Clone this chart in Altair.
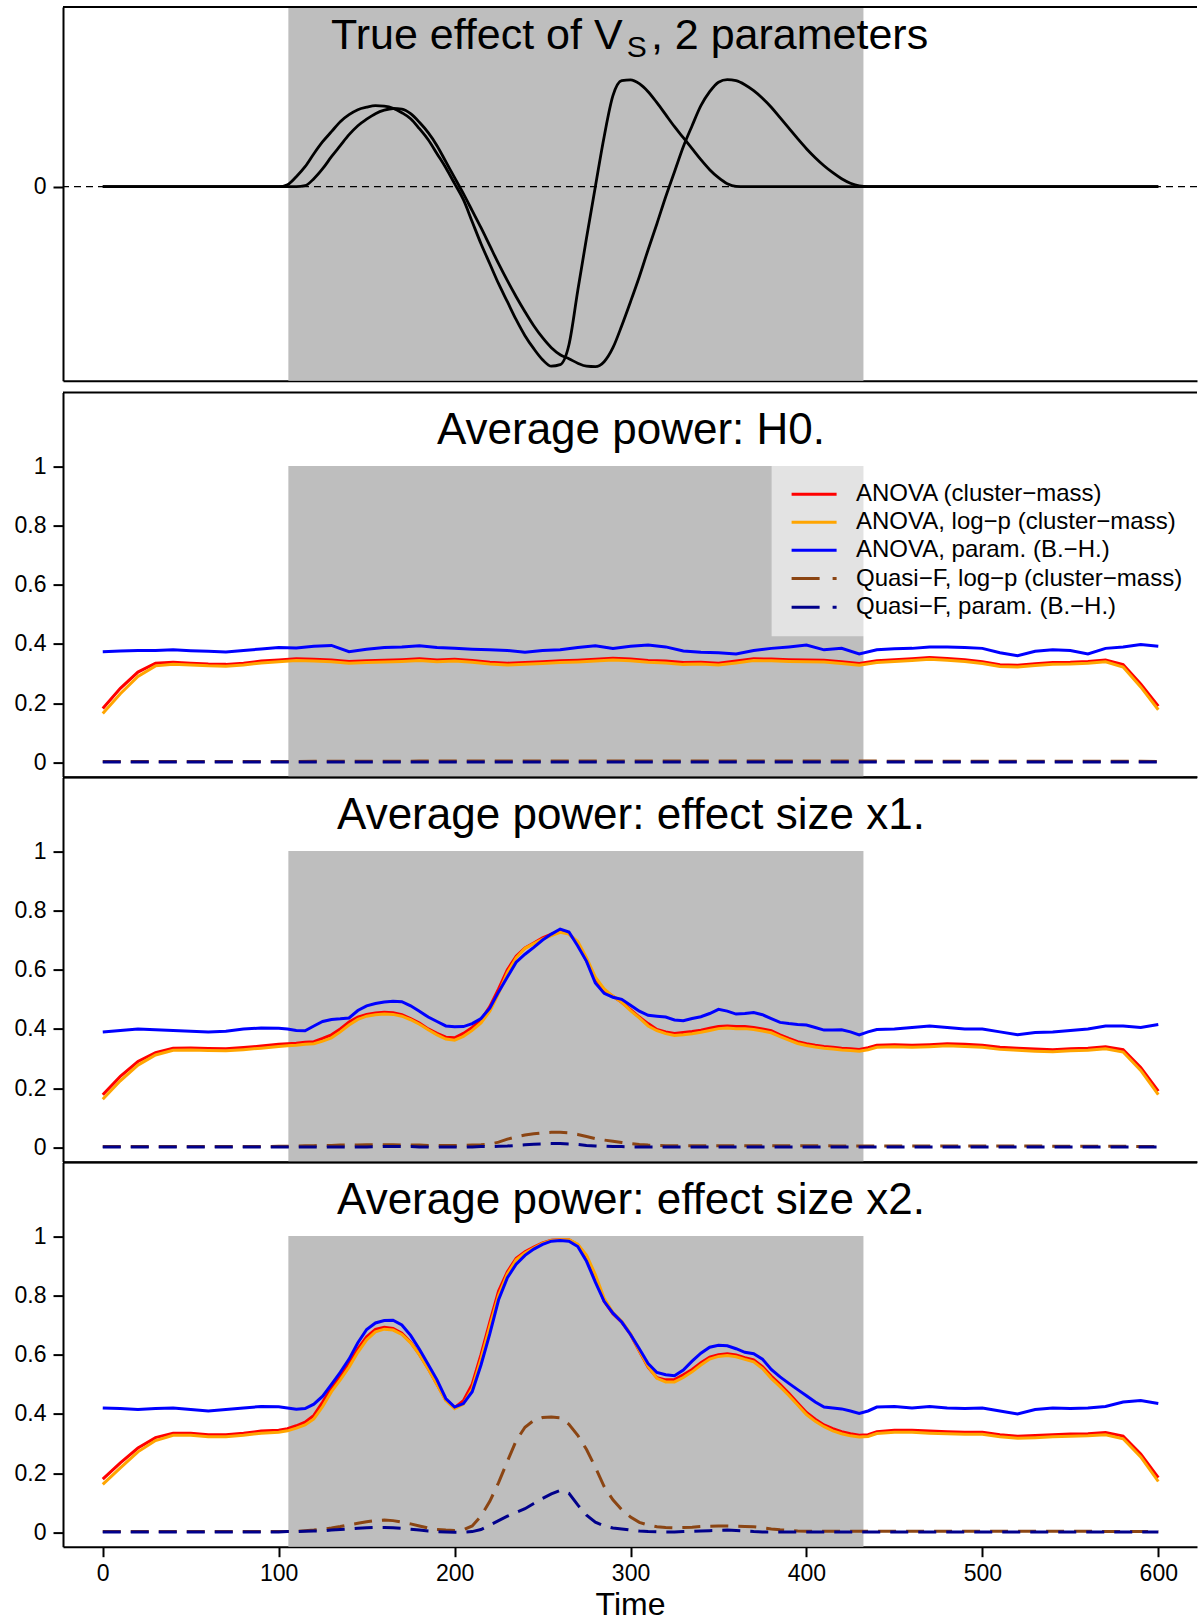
import altair as alt
import pandas as pd

FONT = "Liberation Sans"

# ---------------------------------------------------------------- data
TIME_FINE = [0, 10, 20, 30, 40, 50, 60, 70, 80, 90,
             100, 105, 110, 115, 120, 125, 130, 135, 140, 145,
             150, 155, 160, 165, 170, 175, 180, 185, 190, 195,
             200, 205, 210, 215, 220, 225, 230, 235, 240, 245,
             250, 255, 260, 265, 270, 275, 280, 285, 290, 295,
             300, 305, 310, 315, 320, 325, 330, 335, 340, 345,
             350, 355, 360, 365, 370, 375, 380, 385, 390, 395,
             400, 405, 410, 415, 420, 425, 430, 435, 440,
             450, 460, 470, 480, 490, 500, 510, 520, 530, 540, 550, 560, 570, 580, 590, 600]

TIME_COARSE = [0, 10, 20, 30, 40, 50, 60, 70, 80, 90,
               100, 110, 120, 130, 140, 150, 160, 170, 180, 190,
               200, 210, 220, 230, 240, 250, 260, 270, 280, 290,
               300, 310, 320, 330, 340, 350, 360, 370, 380, 390,
               400, 410, 420, 430, 440, 450, 460, 470, 480, 490,
               500, 510, 520, 530, 540, 550, 560, 570, 580, 590, 600]

SERIES_NAMES = ["ANOVA (cluster\u2212mass)",
                "ANOVA, log\u2212p (cluster\u2212mass)",
                "ANOVA, param. (B.\u2212H.)",
                "Quasi\u2212F, log\u2212p (cluster\u2212mass)",
                "Quasi\u2212F, param. (B.\u2212H.)"]
SERIES_KEYS = ["anova_cm", "anova_logp", "anova_param", "qf_logp", "qf_param"]
SERIES_COLORS = ["#FF0000", "#FFA500", "#0000FF", "#8B4513", "#00008B"]
SERIES_DASHED = [False, False, False, True, True]

# true effect (two parameters), arbitrary units
TRUE_EFFECT_A = [0, 0, 0, 0, 0, 0, 0, 0, 0, 0,
                 0, 0.02, 0.10, 0.20, 0.33, 0.45, 0.55, 0.65, 0.72, 0.77,
                 0.795, 0.81, 0.805, 0.785, 0.74, 0.68, 0.58, 0.47, 0.33, 0.19,
                 0.03, -0.13, -0.35, -0.57, -0.77, -0.97, -1.15, -1.33, -1.49, -1.62,
                 -1.73, -1.795, -1.78, -1.58, -1.04, -0.51, 0.0, 0.50, 0.91, 1.06,
                 1.068, 1.03, 0.95, 0.84, 0.72, 0.60, 0.49, 0.38, 0.27, 0.17,
                 0.09, 0.03, 0.003, 0, 0, 0, 0, 0, 0, 0,
                 0, 0, 0, 0, 0, 0, 0, 0, 0,
                 0, 0, 0, 0, 0, 0, 0, 0, 0, 0, 0, 0, 0, 0, 0, 0]
TRUE_EFFECT_B = [0, 0, 0, 0, 0, 0, 0, 0, 0, 0,
                 0, 0, 0, 0.01, 0.08, 0.18, 0.30, 0.41, 0.52, 0.61,
                 0.675, 0.73, 0.765, 0.782, 0.775, 0.73, 0.644, 0.54, 0.41, 0.25,
                 0.09, -0.07, -0.24, -0.41, -0.59, -0.77, -0.94, -1.10, -1.25, -1.39,
                 -1.51, -1.61, -1.68, -1.72, -1.765, -1.795, -1.80, -1.75, -1.61, -1.39,
                 -1.15, -0.90, -0.63, -0.37, -0.10, 0.15, 0.40, 0.61, 0.81, 0.95,
                 1.045, 1.07, 1.06, 1.02, 0.96, 0.885, 0.795, 0.69, 0.585, 0.48,
                 0.38, 0.29, 0.21, 0.14, 0.08, 0.035, 0.008, 0, 0,
                 0, 0, 0, 0, 0, 0, 0, 0, 0, 0, 0, 0, 0, 0, 0, 0]

# ---- H0 (coarse grid)
H0_ANOVA_CM = [0.182, 0.25, 0.305, 0.335, 0.338, 0.335, 0.332, 0.331, 0.335, 0.342,
               0.346, 0.35, 0.348, 0.346, 0.341, 0.343, 0.345, 0.347, 0.35, 0.346,
               0.348, 0.344, 0.338, 0.335, 0.337, 0.34, 0.343, 0.345, 0.348, 0.352,
               0.349, 0.344, 0.342, 0.337, 0.338, 0.335, 0.342, 0.35, 0.349, 0.347,
               0.346, 0.345, 0.34, 0.334, 0.343, 0.347, 0.35, 0.354, 0.351, 0.347,
               0.34, 0.33, 0.328, 0.333, 0.337, 0.338, 0.341, 0.346, 0.33, 0.265, 0.19]
H0_ANOVA_LOGP = [0.165, 0.232, 0.29, 0.326, 0.331, 0.329, 0.326, 0.325, 0.329, 0.336,
                 0.34, 0.344, 0.342, 0.34, 0.335, 0.337, 0.339, 0.341, 0.344, 0.34,
                 0.342, 0.338, 0.332, 0.329, 0.331, 0.334, 0.337, 0.339, 0.342, 0.346,
                 0.343, 0.338, 0.336, 0.331, 0.332, 0.329, 0.336, 0.344, 0.343, 0.341,
                 0.34, 0.339, 0.334, 0.328, 0.337, 0.341, 0.344, 0.348, 0.345, 0.341,
                 0.334, 0.324, 0.322, 0.327, 0.331, 0.332, 0.335, 0.34, 0.322, 0.255, 0.178]
H0_ANOVA_PARAM = [0.374, 0.376, 0.378, 0.378, 0.38, 0.377, 0.375, 0.373, 0.378, 0.383,
                  0.388, 0.386, 0.392, 0.395, 0.374, 0.382, 0.388, 0.39, 0.394, 0.388,
                  0.385, 0.382, 0.38, 0.378, 0.372, 0.378, 0.38, 0.388, 0.394, 0.385,
                  0.392, 0.396, 0.39, 0.376, 0.372, 0.37, 0.366, 0.378, 0.385, 0.39,
                  0.396, 0.38, 0.385, 0.366, 0.38, 0.384, 0.385, 0.39, 0.39, 0.388,
                  0.385, 0.37, 0.36, 0.375, 0.38, 0.378, 0.366, 0.385, 0.39, 0.398, 0.392]
H0_QF_LOGP = [0.003, 0.003, 0.003, 0.003, 0.003, 0.003, 0.003, 0.003, 0.003, 0.003,
              0.003, 0.003, 0.004, 0.004, 0.004, 0.004, 0.004, 0.004, 0.005, 0.005,
              0.005, 0.005, 0.005, 0.005, 0.005, 0.005, 0.005, 0.005, 0.005, 0.005,
              0.005, 0.005, 0.005, 0.005, 0.005, 0.005, 0.005, 0.005, 0.005, 0.005,
              0.005, 0.005, 0.005, 0.005, 0.005, 0.004, 0.004, 0.004, 0.004, 0.004,
              0.004, 0.004, 0.004, 0.004, 0.004, 0.004, 0.004, 0.004, 0.004, 0.004, 0.003]
H0_QF_PARAM = [0.002, 0.002, 0.002, 0.002, 0.002, 0.002, 0.002, 0.002, 0.002, 0.002,
               0.002, 0.002, 0.002, 0.002, 0.002, 0.002, 0.002, 0.002, 0.002, 0.002,
               0.002, 0.002, 0.002, 0.002, 0.002, 0.002, 0.002, 0.002, 0.002, 0.002,
               0.002, 0.002, 0.002, 0.002, 0.002, 0.002, 0.002, 0.002, 0.002, 0.002,
               0.002, 0.002, 0.002, 0.002, 0.002, 0.002, 0.002, 0.002, 0.002, 0.002,
               0.002, 0.002, 0.002, 0.002, 0.002, 0.002, 0.002, 0.002, 0.002, 0.002, 0.002]

# ---- effect size x1 (fine grid)
X1_ANOVA_CM = [0.178, 0.24, 0.29, 0.32, 0.335, 0.336, 0.334, 0.333, 0.337, 0.342,
               0.348, 0.35, 0.352, 0.355, 0.357, 0.368, 0.38, 0.40, 0.423, 0.44,
               0.449, 0.454, 0.456, 0.455, 0.448, 0.435, 0.42, 0.40, 0.385, 0.372,
               0.37, 0.385, 0.405, 0.43, 0.475, 0.535, 0.60, 0.645, 0.673, 0.69,
               0.707, 0.72, 0.731, 0.722, 0.69, 0.63, 0.57, 0.53, 0.51, 0.49,
               0.465, 0.44, 0.418, 0.398, 0.39, 0.385, 0.388, 0.391, 0.396, 0.402,
               0.408, 0.41, 0.408, 0.408, 0.405, 0.40, 0.394, 0.38, 0.368, 0.357,
               0.35, 0.345, 0.341, 0.338, 0.335, 0.333, 0.331, 0.337, 0.345,
               0.347, 0.345, 0.347, 0.35, 0.348, 0.345, 0.338, 0.335, 0.332, 0.33,
               0.333, 0.335, 0.34, 0.33, 0.27, 0.19]
X1_ANOVA_LOGP = [0.163, 0.225, 0.278, 0.312, 0.328, 0.329, 0.327, 0.326, 0.33, 0.335,
                 0.341, 0.343, 0.345, 0.348, 0.35, 0.359, 0.37, 0.39, 0.413, 0.432,
                 0.443, 0.448, 0.45, 0.449, 0.443, 0.431, 0.416, 0.397, 0.38, 0.366,
                 0.362, 0.375, 0.395, 0.42, 0.46, 0.52, 0.59, 0.64, 0.672, 0.688,
                 0.703, 0.715, 0.726, 0.72, 0.695, 0.64, 0.575, 0.535, 0.51, 0.49,
                 0.462, 0.437, 0.41, 0.394, 0.384, 0.378, 0.38, 0.384, 0.389, 0.395,
                 0.401, 0.403, 0.401, 0.401, 0.398, 0.393, 0.387, 0.374, 0.362, 0.351,
                 0.344, 0.339, 0.335, 0.332, 0.329, 0.327, 0.325, 0.33, 0.338,
                 0.34, 0.338, 0.34, 0.343, 0.341, 0.338, 0.331, 0.328, 0.325, 0.323,
                 0.326, 0.328, 0.333, 0.322, 0.26, 0.178]
X1_ANOVA_PARAM = [0.39, 0.395, 0.40, 0.397, 0.395, 0.392, 0.39, 0.392, 0.40, 0.403,
                  0.402, 0.40, 0.395, 0.394, 0.41, 0.425, 0.432, 0.434, 0.437, 0.462,
                  0.478, 0.486, 0.491, 0.493, 0.492, 0.478, 0.46, 0.44, 0.425, 0.41,
                  0.407, 0.408, 0.418, 0.435, 0.47, 0.525, 0.575, 0.625, 0.652, 0.675,
                  0.70, 0.72, 0.737, 0.727, 0.68, 0.628, 0.555, 0.52, 0.507, 0.50,
                  0.48, 0.46, 0.446, 0.443, 0.44, 0.43, 0.428, 0.435, 0.441, 0.452,
                  0.466, 0.46, 0.45, 0.452, 0.455, 0.448, 0.435, 0.422, 0.418, 0.415,
                  0.413, 0.405, 0.396, 0.396, 0.397, 0.39, 0.38, 0.39, 0.398,
                  0.40, 0.405, 0.41, 0.405, 0.40, 0.40, 0.39, 0.38, 0.388, 0.39,
                  0.395, 0.40, 0.41, 0.41, 0.405, 0.415]
X1_QF_LOGP = [0.003, 0.003, 0.003, 0.003, 0.003, 0.003, 0.003, 0.003, 0.003, 0.003,
              0.004, 0.004, 0.005, 0.006, 0.006, 0.007, 0.007, 0.008, 0.008, 0.008,
              0.009, 0.009, 0.009, 0.009, 0.008, 0.008, 0.008, 0.007, 0.007, 0.007,
              0.007, 0.007, 0.008, 0.009, 0.011, 0.018, 0.028, 0.036, 0.042, 0.046,
              0.049, 0.051, 0.051, 0.049, 0.044, 0.037, 0.03, 0.025, 0.021, 0.017,
              0.013, 0.01, 0.008, 0.007, 0.006, 0.006, 0.006, 0.006, 0.006, 0.006,
              0.006, 0.006, 0.006, 0.006, 0.006, 0.006, 0.006, 0.006, 0.006, 0.006,
              0.006, 0.006, 0.006, 0.005, 0.005, 0.005, 0.005, 0.005, 0.005,
              0.005, 0.005, 0.005, 0.005, 0.005, 0.005, 0.005, 0.005, 0.005, 0.004,
              0.004, 0.004, 0.004, 0.004, 0.003, 0.003]
X1_QF_PARAM = [0.002, 0.002, 0.002, 0.002, 0.002, 0.002, 0.002, 0.002, 0.002, 0.002,
               0.002, 0.002, 0.002, 0.002, 0.002, 0.002, 0.002, 0.002, 0.002, 0.002,
               0.002, 0.003, 0.003, 0.003, 0.003, 0.003, 0.002, 0.002, 0.002, 0.002,
               0.002, 0.002, 0.002, 0.003, 0.003, 0.004, 0.005, 0.007, 0.009, 0.011,
               0.012, 0.013, 0.013, 0.012, 0.01, 0.007, 0.005, 0.004, 0.003, 0.003,
               0.002, 0.002, 0.002, 0.002, 0.002, 0.002, 0.002, 0.002, 0.002, 0.002,
               0.002, 0.002, 0.002, 0.002, 0.002, 0.002, 0.002, 0.002, 0.002, 0.002,
               0.002, 0.002, 0.002, 0.002, 0.002, 0.002, 0.002, 0.002, 0.002,
               0.002, 0.002, 0.002, 0.002, 0.002, 0.002, 0.002, 0.002, 0.002, 0.002,
               0.002, 0.002, 0.002, 0.002, 0.002, 0.002]

# ---- effect size x2 (fine grid)
X2_ANOVA_CM = [0.18, 0.235, 0.285, 0.32, 0.335, 0.335, 0.33, 0.33, 0.335, 0.342,
               0.345, 0.35, 0.36, 0.372, 0.395, 0.44, 0.488, 0.527, 0.57, 0.62,
               0.66, 0.685, 0.692, 0.688, 0.672, 0.642, 0.601, 0.553, 0.50, 0.447,
               0.421, 0.445, 0.50, 0.60, 0.71, 0.815, 0.88, 0.925, 0.947, 0.963,
               0.977, 0.986, 0.988, 0.988, 0.97, 0.93, 0.86, 0.78, 0.738, 0.71,
               0.668, 0.612, 0.558, 0.522, 0.515, 0.516, 0.532, 0.55, 0.573, 0.592,
               0.60, 0.603, 0.599, 0.59, 0.582, 0.56, 0.528, 0.50, 0.47, 0.437,
               0.405, 0.382, 0.363, 0.35, 0.34, 0.333, 0.328, 0.33, 0.34,
               0.345, 0.345, 0.342, 0.34, 0.338, 0.338, 0.33, 0.325, 0.327, 0.33,
               0.332, 0.333, 0.337, 0.325, 0.265, 0.185]
X2_ANOVA_LOGP = [0.162, 0.218, 0.272, 0.31, 0.328, 0.328, 0.323, 0.323, 0.328, 0.335,
                 0.338, 0.343, 0.352, 0.363, 0.383, 0.425, 0.475, 0.515, 0.558, 0.608,
                 0.65, 0.677, 0.686, 0.683, 0.668, 0.64, 0.60, 0.552, 0.499, 0.445,
                 0.418, 0.433, 0.485, 0.585, 0.695, 0.80, 0.872, 0.92, 0.943, 0.96,
                 0.975, 0.985, 0.988, 0.988, 0.973, 0.935, 0.87, 0.79, 0.742, 0.713,
                 0.67, 0.614, 0.56, 0.52, 0.508, 0.508, 0.523, 0.542, 0.565, 0.585,
                 0.594, 0.597, 0.593, 0.584, 0.576, 0.553, 0.52, 0.492, 0.462, 0.43,
                 0.398, 0.375, 0.357, 0.343, 0.333, 0.326, 0.322, 0.324, 0.334,
                 0.338, 0.338, 0.335, 0.333, 0.331, 0.331, 0.323, 0.318, 0.32, 0.323,
                 0.325, 0.326, 0.33, 0.316, 0.255, 0.172]
X2_ANOVA_PARAM = [0.42, 0.418, 0.415, 0.418, 0.42, 0.415, 0.41, 0.415, 0.42, 0.425,
                  0.424, 0.42, 0.416, 0.418, 0.433, 0.46, 0.50, 0.54, 0.585, 0.64,
                  0.685, 0.707, 0.715, 0.716, 0.70, 0.665, 0.618, 0.567, 0.515, 0.452,
                  0.423, 0.435, 0.475, 0.565, 0.67, 0.785, 0.86, 0.905, 0.935, 0.956,
                  0.972, 0.983, 0.985, 0.983, 0.965, 0.915, 0.845, 0.78, 0.74, 0.71,
                  0.668, 0.62, 0.57, 0.54, 0.532, 0.529, 0.548, 0.578, 0.605, 0.625,
                  0.632, 0.63, 0.62, 0.608, 0.603, 0.585, 0.55, 0.525, 0.503, 0.482,
                  0.461, 0.44, 0.423, 0.42, 0.417, 0.41, 0.402, 0.41, 0.423,
                  0.425, 0.42, 0.425, 0.42, 0.418, 0.42, 0.41, 0.40, 0.415, 0.42,
                  0.418, 0.42, 0.425, 0.44, 0.445, 0.435]
X2_QF_LOGP = [0.003, 0.003, 0.003, 0.003, 0.003, 0.003, 0.003, 0.003, 0.003, 0.003,
              0.003, 0.003, 0.004, 0.006, 0.008, 0.011, 0.015, 0.02, 0.026, 0.031,
              0.036, 0.04, 0.042, 0.04, 0.035, 0.029, 0.022, 0.015, 0.01, 0.008,
              0.007, 0.009, 0.022, 0.055, 0.105, 0.168, 0.24, 0.31, 0.355, 0.378,
              0.388, 0.39, 0.387, 0.365, 0.328, 0.28, 0.22, 0.155, 0.11, 0.077,
              0.052, 0.034, 0.025, 0.019, 0.017, 0.016, 0.017, 0.018, 0.02, 0.021,
              0.022, 0.022, 0.021, 0.02, 0.019, 0.016, 0.012, 0.009, 0.007, 0.005,
              0.004, 0.004, 0.004, 0.004, 0.004, 0.004, 0.004, 0.004, 0.004,
              0.004, 0.004, 0.004, 0.004, 0.004, 0.004, 0.004, 0.004, 0.004, 0.004,
              0.004, 0.004, 0.003, 0.003, 0.003, 0.003]
X2_QF_PARAM = [0.002, 0.002, 0.002, 0.002, 0.002, 0.002, 0.002, 0.002, 0.002, 0.002,
               0.002, 0.003, 0.003, 0.004, 0.005, 0.006, 0.008, 0.01, 0.012, 0.014,
               0.016, 0.017, 0.017, 0.016, 0.014, 0.011, 0.008, 0.005, 0.003, 0.002,
               0.001, 0.001, 0.003, 0.01, 0.025, 0.04, 0.055, 0.068, 0.08, 0.098,
               0.115, 0.13, 0.142, 0.132, 0.093, 0.058, 0.035, 0.022, 0.015, 0.012,
               0.008, 0.005, 0.003, 0.002, 0.002, 0.002, 0.003, 0.004, 0.005, 0.006,
               0.007, 0.008, 0.007, 0.005, 0.003, 0.002, 0.002, 0.002, 0.002, 0.002,
               0.002, 0.002, 0.002, 0.002, 0.002, 0.002, 0.002, 0.002, 0.002,
               0.002, 0.002, 0.002, 0.002, 0.002, 0.002, 0.002, 0.002, 0.002, 0.002,
               0.002, 0.002, 0.002, 0.002, 0.002, 0.002]

PANEL_TITLES = ["Average power: H0.",
                "Average power: effect size x1.",
                "Average power: effect size x2."]
TOP_TITLE = ["True effect of V", "S", ", 2 parameters"]
EFFECT_WINDOW = [105.5, 432.4]
X_TICKS = [0, 100, 200, 300, 400, 500, 600]
Y_TICKS = [0, 0.2, 0.4, 0.6, 0.8, 1]

# ---------------------------------------------------------------- layout constants
W = 1134
H_TOP = 373.7
H_POW = 384.1
X_DOM = [-22.6, 622.0]
Y_DOM_TOP = [-1.94, 1.797]
Y_DOM_POW = [-0.048, 1.248]
GREY = "#BEBEBE"

X_SCALE = alt.Scale(domain=X_DOM, nice=False, zero=False)

AX_X_HIDDEN = alt.Axis(labels=False, ticks=False, domain=True, domainColor="black",
                       domainWidth=2, grid=False, title=None)
AX_X_TIME = alt.Axis(values=X_TICKS, format="d", tickSize=10, tickWidth=2, tickColor="black",
                     domainColor="black", domainWidth=2, labelFont=FONT, labelFontSize=23,
                     labelColor="black", labelPadding=6, labelFlush=False, labelOverlap=False,
                     grid=False, title="Time", titleFont=FONT, titleFontSize=32,
                     titleFontWeight="normal", titleColor="black", titlePadding=4)


def y_axis(values):
    return alt.Axis(values=values, format="~g", tickSize=10, tickWidth=2, tickColor="black",
                    domainColor="black", domainWidth=2, labelFont=FONT, labelFontSize=23,
                    labelColor="black", labelPadding=7, labelOverlap=False, grid=False,
                    title=None)


def one_row(**kw):
    return pd.DataFrame({k: [v] for k, v in kw.items()})


def make_df(times, cols):
    d = {"t": times}
    for k, v in zip(SERIES_KEYS, cols):
        assert len(v) == len(times), (k, len(v), len(times))
        d[k] = v
    return pd.DataFrame(d)


def top_border():
    return alt.Chart(one_row(k=0)).mark_rule(color="black", strokeWidth=2).encode(
        x=alt.value(0), x2=alt.value(W), y=alt.value(0))


def window_rect(lo, hi, y_scale, x_axis, y_ax):
    df = one_row(start=EFFECT_WINDOW[0], end=EFFECT_WINDOW[1], lo=lo, hi=hi)
    return alt.Chart(df).mark_rect(color=GREY).encode(
        x=alt.X("start:Q", scale=X_SCALE, axis=x_axis),
        x2="end:Q",
        y=alt.Y("lo:Q", scale=y_scale, axis=y_ax),
        y2="hi:Q")


# ---------------------------------------------------------------- panel 1
y_scale_top = alt.Scale(domain=Y_DOM_TOP, nice=False, zero=False)
ax_y_top = y_axis([0])
assert len(TRUE_EFFECT_A) == len(TIME_FINE) and len(TRUE_EFFECT_B) == len(TIME_FINE)
df_true = pd.DataFrame({"t": TIME_FINE, "a": TRUE_EFFECT_A, "b": TRUE_EFFECT_B})

p1_layers = [window_rect(Y_DOM_TOP[0], Y_DOM_TOP[1], y_scale_top, AX_X_HIDDEN, ax_y_top)]
p1_layers.append(
    alt.Chart(one_row(zero=0)).mark_rule(color="black", strokeWidth=1.3, strokeDash=[7, 5]).encode(
        y=alt.Y("zero:Q", scale=y_scale_top, axis=ax_y_top)))
for col in ["a", "b"]:
    p1_layers.append(
        alt.Chart(df_true).mark_line(color="black", strokeWidth=2.8, interpolate="monotone").encode(
            x=alt.X("t:Q", scale=X_SCALE, axis=AX_X_HIDDEN),
            y=alt.Y(col + ":Q", scale=y_scale_top, axis=ax_y_top)))
p1_layers.append(top_border())
p1_layers.append(alt.Chart(one_row(label=TOP_TITLE[0])).mark_text(
    font=FONT, fontSize=43, align="right", baseline="alphabetic", color="black").encode(
    text="label:N", x=alt.value(559.6), y=alt.value(42)))
p1_layers.append(alt.Chart(one_row(label=TOP_TITLE[1])).mark_text(
    font=FONT, fontSize=30, align="left", baseline="alphabetic", color="black").encode(
    text="label:N", x=alt.value(563.7), y=alt.value(50.3)))
p1_layers.append(alt.Chart(one_row(label=TOP_TITLE[2])).mark_text(
    font=FONT, fontSize=43, align="left", baseline="alphabetic", color="black").encode(
    text="label:N", x=alt.value(587.9), y=alt.value(42)))
panel1 = alt.layer(*p1_layers).properties(width=W, height=H_TOP)

# ---------------------------------------------------------------- power panels
y_scale_pow = alt.Scale(domain=Y_DOM_POW, nice=False, zero=False)
ax_y_pow = y_axis(Y_TICKS)

LEG_BOX = (708.6, 72.7, 243.7)
LEG_LINE_X = (728.6, 773.6)
LEG_TEXT_X = 793
LEG_ROWS_Y = [101.7, 129.7, 157.7, 186.0, 214.6]


def power_panel(df, title, x_axis, with_legend):
    layers = [window_rect(Y_DOM_POW[0], 1.0, y_scale_pow, x_axis, ax_y_pow)]
    for key, color, dashed in zip(SERIES_KEYS, SERIES_COLORS, SERIES_DASHED):
        kw = dict(color=color, strokeWidth=3)
        if dashed:
            kw["strokeDash"] = [18, 10]
        layers.append(alt.Chart(df).mark_line(**kw).encode(
            x=alt.X("t:Q", scale=X_SCALE, axis=x_axis),
            y=alt.Y(key + ":Q", scale=y_scale_pow, axis=ax_y_pow)))
    layers.append(top_border())
    layers.append(alt.Chart(one_row(label=title)).mark_text(
        font=FONT, fontSize=44, align="center", baseline="alphabetic", color="black").encode(
        text="label:N", x=alt.value(568), y=alt.value(51.5)))
    if with_legend:
        layers.append(alt.Chart(one_row(k=0)).mark_rect(color="white", opacity=0.57).encode(
            x=alt.value(LEG_BOX[0]), x2=alt.value(W), y=alt.value(LEG_BOX[1]), y2=alt.value(LEG_BOX[2])))
        for name, color, dashed, ry in zip(SERIES_NAMES, SERIES_COLORS, SERIES_DASHED, LEG_ROWS_Y):
            kw = dict(color=color, strokeWidth=3)
            if dashed:
                kw["strokeDash"] = [28, 13]
            layers.append(alt.Chart(one_row(k=0)).mark_rule(**kw).encode(
                x=alt.value(LEG_LINE_X[0]), x2=alt.value(LEG_LINE_X[1]), y=alt.value(ry)))
            layers.append(alt.Chart(one_row(label=name)).mark_text(
                font=FONT, fontSize=24, align="left", baseline="middle", color="black").encode(
                text="label:N", x=alt.value(LEG_TEXT_X), y=alt.value(ry)))
    return alt.layer(*layers).properties(width=W, height=H_POW)


df_h0 = make_df(TIME_COARSE, [H0_ANOVA_CM, H0_ANOVA_LOGP, H0_ANOVA_PARAM, H0_QF_LOGP, H0_QF_PARAM])
df_x1 = make_df(TIME_FINE, [X1_ANOVA_CM, X1_ANOVA_LOGP, X1_ANOVA_PARAM, X1_QF_LOGP, X1_QF_PARAM])
df_x2 = make_df(TIME_FINE, [X2_ANOVA_CM, X2_ANOVA_LOGP, X2_ANOVA_PARAM, X2_QF_LOGP, X2_QF_PARAM])

panel2 = power_panel(df_h0, PANEL_TITLES[0], AX_X_HIDDEN, True)
panel3 = power_panel(df_x1, PANEL_TITLES[1], AX_X_HIDDEN, False)
panel4 = power_panel(df_x2, PANEL_TITLES[2], AX_X_TIME, False)

inner = alt.vconcat(panel2, panel3, panel4, spacing=0, bounds="flush").resolve_scale(
    x="independent", y="independent")
chart = alt.vconcat(panel1, inner, spacing=11.6, bounds="flush").resolve_scale(
    x="independent", y="independent").properties(
    padding={"left": 14, "top": 6, "right": 0, "bottom": 0},
    background="white").configure_view(stroke=None)

chart.save("out.html", embed_options={"renderer": "svg", "actions": False})
